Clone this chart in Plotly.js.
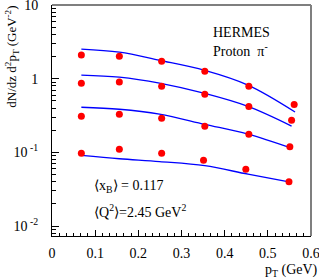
<!DOCTYPE html>
<html>
<head>
<meta charset="utf-8">
<script src="https://cdn.plot.ly/plotly-3.0.1.min.js"></script>
<style>html,body{margin:0;padding:0;background:#fff;}#chart{width:319px;height:280px;}</style>
</head>
<body>
<div id="chart"></div>
<script>
// Data points (red dots)
const ptX1 = [0.068, 0.156, 0.254, 0.354, 0.456, 0.561];
const ptX2 = [0.068, 0.156, 0.254, 0.354, 0.456, 0.555];
const ptX3 = [0.068, 0.156, 0.254, 0.354, 0.456, 0.551];
const ptX4 = [0.068, 0.156, 0.254, 0.351, 0.449, 0.549];
const data1 = [2.09, 2.02, 1.73, 1.26, 0.79, 0.447];
const data2 = [0.87, 0.90, 0.79, 0.615, 0.42, 0.273];
const data3 = [0.31, 0.33, 0.29, 0.226, 0.176, 0.119];
const data4 = [0.097, 0.11, 0.097, 0.078, 0.059, 0.040];

// Model curves (blue lines)
const curveX1 = [0.068, 0.156, 0.249, 0.354, 0.454, 0.563];
const curveX2 = [0.068, 0.156, 0.249, 0.354, 0.454, 0.555];
const curveX3 = [0.068, 0.156, 0.249, 0.354, 0.454, 0.553];
const curveX4 = [0.068, 0.156, 0.249, 0.354, 0.454, 0.549];
const curve1 = [2.52, 2.29, 1.78, 1.30, 0.82, 0.354];
const curve2 = [1.12, 1.05, 0.87, 0.63, 0.42, 0.227];
const curve3 = [0.41, 0.385, 0.33, 0.24, 0.177, 0.115];
const curve4 = [0.091, 0.082, 0.075, 0.066, 0.0506, 0.0398];

const xTickVals = [0, 0.1, 0.2, 0.3, 0.4, 0.5, 0.6];
const xTickText = ["0", "0.1", "0.2", "0.3", "0.4", "0.5", "0.6"];
const yTickVals = [0.01, 0.1, 1, 10];
const yTickText = ["10<sup> -2</sup>", "10<sup> -1</sup>", "1", "10"];

const yMinor = [];
[0.01, 0.1, 1].forEach(d => { for (let k = 2; k <= 9; k++) yMinor.push(d * k); });
yMinor.push(0.008, 0.009);

const serif = "Liberation Serif, Times New Roman, serif";
const traces = [];
[[curveX1, curve1], [curveX2, curve2], [curveX3, curve3], [curveX4, curve4]].forEach(c => traces.push({
  x: c[0], y: c[1], type: "scatter", mode: "lines",
  line: {color: "#0000ff", width: 1.3, shape: "spline", smoothing: 1},
  hoverinfo: "skip", showlegend: false
}));
[[ptX1, data1], [ptX2, data2], [ptX3, data3], [ptX4, data4]].forEach(d => traces.push({
  x: d[0], y: d[1], type: "scatter", mode: "markers",
  marker: {color: "#ff0000", size: 7}, showlegend: false
}));

const layout = {
  width: 319, height: 280,
  margin: {l: 52, r: 8, t: 5, b: 44},
  paper_bgcolor: "#fff", plot_bgcolor: "#fff",
  font: {family: serif, size: 14, color: "#000"},
  showlegend: false,
  xaxis: {
    range: [0, 0.6], tickmode: "array", tickvals: xTickVals, ticktext: xTickText,
    ticks: "inside", ticklen: 6, tickcolor: "#000", showgrid: false, zeroline: false,
    showline: true, linecolor: "#000", linewidth: 1,
    minor: {dtick: 0.1/6, ticks: "inside", ticklen: 3, tickcolor: "#000", showgrid: false},
    tickfont: {family: serif, size: 14}, ticklabelstandoff: 4, ticklabeloverflow: "allow"
  },
  yaxis: {
    type: "log", range: [-2.135, 1.0005], tickmode: "array", tickvals: yTickVals, ticktext: yTickText,
    ticks: "inside", ticklen: 7, tickcolor: "#000", showgrid: false, zeroline: false,
    showline: true, linecolor: "#000", linewidth: 1,
    minor: {tickmode: "array", tickvals: yMinor, ticks: "inside", ticklen: 4, tickcolor: "#000", showgrid: false},
    tickfont: {family: serif, size: 14}, ticklabelstandoff: 10, ticklabeloverflow: "allow"
  },
  shapes: [
    {type: "line", xref: "paper", yref: "paper", x0: 0, x1: 1, y0: 1, y1: 1, line: {color: "#7f7f7f", width: 2}},
    {type: "line", xref: "paper", yref: "paper", x0: 1, x1: 1, y0: 0, y1: 1, line: {color: "#7f7f7f", width: 2}}
  ],
  annotations: [
    {text: "dN/dz d<sup>2</sup>p<sub>T</sub> (GeV<sup>-2</sup>)", textangle: -90,
     xref: "paper", yref: "paper", x: -0.155, y: 1.005, xanchor: "center", yanchor: "top",
     showarrow: false, font: {family: serif, size: 13}},
    {text: "p<sub>T</sub> (GeV)", xref: "paper", yref: "paper", x: 1.035, y: -0.15,
     xanchor: "right", yanchor: "middle", showarrow: false, font: {family: serif, size: 14}},
    {text: "HERMES", xref: "paper", yref: "paper", x: 0.615, y: 0.88, xanchor: "left", yanchor: "middle",
     showarrow: false, font: {family: serif, size: 14}},
    {text: "Proton  π<sup>-</sup>", xref: "paper", yref: "paper", x: 0.615, y: 0.805, xanchor: "left", yanchor: "middle",
     showarrow: false, font: {family: serif, size: 14}},
    {text: "⟨x<sub>B</sub>⟩ = 0.117", xref: "paper", yref: "paper", x: 0.155, y: 0.215, xanchor: "left", yanchor: "middle",
     showarrow: false, font: {family: serif, size: 14}},
    {text: "⟨Q<sup>2</sup>⟩=2.45 GeV<sup>2</sup>", xref: "paper", yref: "paper", x: 0.155, y: 0.11, xanchor: "left", yanchor: "middle",
     showarrow: false, font: {family: serif, size: 14}}
  ]
};

Plotly.newPlot("chart", traces, layout, {staticPlot: true, displayModeBar: false});
</script>
</body>
</html>
